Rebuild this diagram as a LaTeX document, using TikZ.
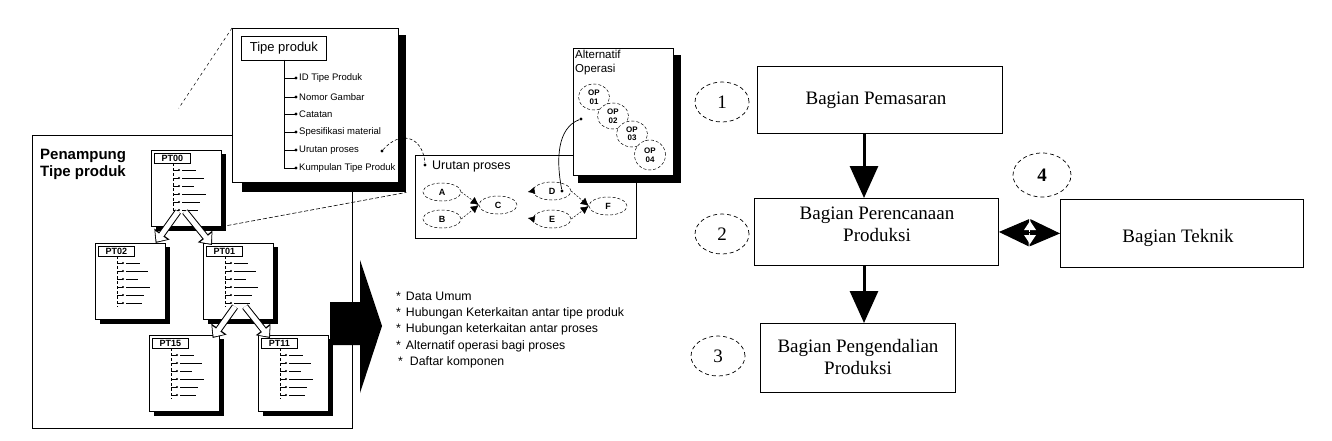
\documentclass[tikz,border=0pt]{standalone}
\usepackage{fontspec}
\setmainfont{Liberation Serif}
\setsansfont{Liberation Sans}
\usetikzlibrary{arrows.meta,shapes.geometric,calc}
\begin{document}
\begin{tikzpicture}[x=1pt,y=-1pt,
  frame/.style={draw, fill=white, inner sep=0pt, anchor=north west},
  shadowbox/.style={fill=black, inner sep=0pt, anchor=north west},
  serifbox/.style={draw, line width=0.9pt, inner sep=0pt, anchor=north west},
  seriftext/.style={font=\fontsize{19}{22}\selectfont, align=center, inner sep=0pt},
  numcirc/.style={draw, dash pattern=on 4pt off 3pt, line width=0.7pt, ellipse, inner sep=0pt, minimum width=54pt, minimum height=40pt, font=\fontsize{19}{20}\selectfont},
  procell/.style={draw, dash pattern=on 3pt off 2pt, line width=0.5pt, ellipse, fill=white, inner sep=0pt, minimum width=38pt, minimum height=18pt, font=\sffamily\bfseries\fontsize{9}{9}\selectfont},
  opell/.style={draw, dash pattern=on 3pt off 2pt, line width=0.5pt, ellipse, fill=white, inner sep=0pt, minimum width=31pt, minimum height=26pt, align=center, font=\sffamily\bfseries\fontsize{8}{8.5}\selectfont},
  dotnode/.style={circle, fill=black, inner sep=0pt, minimum size=3.2pt},
  smalltxt/.style={font=\sffamily\fontsize{9.5}{10}\selectfont, inner sep=0pt, anchor=west},
  bullettxt/.style={font=\sffamily\fontsize{12.3}{13}\selectfont, inner sep=0pt, anchor=west},
  hollowout/.style={line width=7pt, -{Triangle[length=11pt,width=18pt]}},
  hollowin/.style={line width=5pt, white, -{Triangle[length=8pt,width=14pt]}, shorten >=1.6pt},
  bigarrow/.style={line width=3pt, -{Triangle[length=32pt,width=28pt]}},
  procarrow/.style={dash pattern=on 2pt off 1.5pt, line width=0.5pt, -{Latex[length=8pt,width=8pt]}},
  minibox/.pic={
    \fill (5,4) rectangle (75,81);
    \node[frame, line width=0.6pt, minimum width=70pt, minimum height=76pt] (-box) at (0,0) {};
    \node[draw, line width=0.6pt, anchor=north west, inner sep=0pt, minimum width=36pt, minimum height=10pt, font=\sffamily\bfseries\fontsize{9}{9}\selectfont] (-lab) at (3,3) {#1};
    \draw[densely dashed, line width=0.5pt] (22,13) -- (22,64);
    \foreach \yy/\ll in {20/14,28/22,36/12,44/24,52/18,60/16} {
      \draw[line width=0.5pt] (22,\yy) -- (28,\yy);
      \fill (28,\yy) circle (1.2pt);
      \draw[line width=0.6pt] (31,\yy) -- ++(\ll,0);
    }
  }
]
\useasboundingbox (0,0) rectangle (1332,441);

% ---------- Penampung Tipe produk ----------
\node[frame, line width=1pt, minimum width=320pt, minimum height=293pt] (pen) at (32,135) {};
\node[anchor=north west, align=left, inner sep=0pt, font=\sffamily\bfseries\fontsize{15}{17}\selectfont] (pentxt) at (40,149) {Penampung\\Tipe produk};

\pic (pt00) at (151,150) {minibox=PT00};
\pic (pt02) at (95,243) {minibox=PT02};
\pic (pt01) at (203,243) {minibox=PT01};
\pic (pt15) at (149,335) {minibox=PT15};
\pic (pt11) at (258,335) {minibox=PT11};

% hollow arrows
\draw[hollowout] ($(pt00-box.south west)+(27,-15)$) -- ($(pt02-box.north east)+(-10,0)$);
\draw[hollowin]  ($(pt00-box.south west)+(27,-15)$) -- ($(pt02-box.north east)+(-10,0)$);
\draw[hollowout] ($(pt00-box.south west)+(34,-15)$) -- ($(pt01-box.north west)+(9,2)$);
\draw[hollowin]  ($(pt00-box.south west)+(34,-15)$) -- ($(pt01-box.north west)+(9,2)$);
\draw[hollowout] ($(pt01-box.south west)+(32,-13)$) -- ($(pt15-box.north east)+(-7,3)$);
\draw[hollowin]  ($(pt01-box.south west)+(32,-13)$) -- ($(pt15-box.north east)+(-7,3)$);
\draw[hollowout] ($(pt01-box.south west)+(42,-13)$) -- ($(pt11-box.north west)+(12,3)$);
\draw[hollowin]  ($(pt01-box.south west)+(42,-13)$) -- ($(pt11-box.north west)+(12,3)$);

% ---------- Tipe produk popup ----------
\node[shadowbox, minimum width=164pt, minimum height=157pt] (popsh) at (242,35) {};
\node[frame, line width=0.8pt, minimum width=166pt, minimum height=154pt] (pop) at (232,28) {};
\draw[dash pattern=on 3pt off 3pt, line width=0.5pt, shorten >=50pt] (pop.north west) -- (pt00-box.north west);
\draw[dash pattern=on 4pt off 2pt, line width=0.6pt] (pt00-box.south east) -- (popsh.south east);
\node[draw, line width=0.8pt, anchor=north west, inner sep=0pt, minimum width=85pt, minimum height=24pt, font=\sffamily\fontsize{13}{13}\selectfont] (poplab) at (241,36) {Tipe produk};
\draw[line width=0.7pt] (284,60) -- (284,168);
\begin{scope}
\clip (232,28) rectangle (397,182);
\foreach \yy/\txt [count=\i] in {78/ID Tipe Produk,97/Nomor Gambar,114/Catatan,132/Spesifikasi material,150/Urutan proses,168/Kumpulan Tipe Produk} {
  \draw[line width=0.7pt] (284,\yy) -- (296,\yy);
  \fill (296,\yy) circle (1.6pt);
  \node[smalltxt] (item\i) at (299,\yy) {\txt};
}
\end{scope}
\node[dotnode] (udot1) at (382,151) {};

% ---------- big black arrow ----------
\fill (330,302) -- (360,302) -- (360,260) -- (382,326) -- (360,393) -- (360,345) -- (330,345) -- cycle;

% ---------- bullet list ----------
\node[bullettxt] (l1) at (396,296) {*\hspace{5pt}Data Umum};
\node[bullettxt] (l2) at (396,313) {*\hspace{5pt}Hubungan Keterkaitan antar tipe produk};
\node[bullettxt] (l3) at (396,329) {*\hspace{5pt}Hubungan keterkaitan antar proses};
\node[bullettxt] (l4) at (396,346) {*\hspace{5pt}Alternatif operasi bagi proses};
\node[bullettxt] (l5) at (398,362) {*\hspace{7pt}Daftar komponen};

% ---------- Urutan proses ----------
\node[frame, line width=0.9pt, minimum width=221pt, minimum height=83pt] (ubox) at (415,155) {};
\node[dotnode] (udot2) at (425,165) {};
\node[anchor=west, inner sep=0pt, font=\sffamily\fontsize{12.5}{12.5}\selectfont] (ulab) at (432,166) {Urutan proses};
\draw[dash pattern=on 3pt off 2pt, line width=0.6pt] (udot1) .. controls (400,130) and (423,136) .. (udot2);
\node[procell] (pA) at (442,192) {A};
\node[procell] (pB) at (442,219) {B};
\node[procell] (pC) at (498,205) {C};
\node[procell] (pD) at (552,191) {D};
\node[procell] (pE) at (552,219) {E};
\node[procell] (pF) at (608,206) {F};
\draw[procarrow] (pA.east) -- (pC.west);
\draw[procarrow] (pB.east) -- (pC.west);
\draw[procarrow] (pD.east) -- (pF.west);
\draw[procarrow] (pE.east) -- (pF.west);
\draw[line width=0.5pt, {Latex[length=7pt,width=7pt]}-] ($(pD.west)+(-5,1)$) -- (pD.west);
\draw[line width=0.5pt, {Latex[length=7pt,width=7pt]}-] ($(pE.west)+(-5,-1)$) -- (pE.west);

% ---------- Alternatif Operasi ----------
\node[shadowbox, minimum width=103pt, minimum height=128pt] (altsh) at (578,55) {};
\node[frame, line width=0.8pt, minimum width=100pt, minimum height=127pt] (alt) at (573,48) {};
\node[anchor=north west, align=left, inner sep=0pt, font=\sffamily\fontsize{11.5}{13.5}\selectfont] (alttxt) at (575,50) {Alternatif\\Operasi};
\node[opell] (op1) at (594,97) {OP\\01};
\node[opell] (op2) at (613,116) {OP\\02};
\node[opell] (op3) at (632,134) {OP\\03};
\node[opell, minimum height=30pt] (op4) at (650,155) {OP\\04};
\node[dotnode] (altdot) at (581,119) {};
\node[dotnode] (ddot) at (562,191) {};
\draw[line width=0.7pt] (ddot) .. controls (556,160) and (557,128) .. (altdot);

% ---------- right-hand chart ----------
\node[serifbox, minimum width=245pt, minimum height=67pt] (b1) at (757,66) {};
\node[serifbox, minimum width=244pt, minimum height=67pt] (b2) at (754,198) {};
\node[serifbox, minimum width=195pt, minimum height=69pt] (b3) at (760,323) {};
\node[serifbox, minimum width=243pt, minimum height=68pt] (b4) at (1060,199) {};
\node[seriftext] (t1) at (876,100) {Bagian Pemasaran};
\node[seriftext] (t2) at (877,224) {Bagian Perencanaan\\Produksi};
\node[seriftext] (t3) at (858,357) {Bagian Pengendalian\\Produksi};
\node[seriftext] (t4) at (1178,238) {Bagian Teknik};

\coordinate (ax) at (864,0);
\draw[bigarrow] (b1.south -| ax) -- (b2.north -| ax);
\draw[bigarrow] (b2.south -| ax) -- (b3.north -| ax);
\draw[line width=1pt, {Triangle[length=30pt,width=27pt]}-{Triangle[length=30pt,width=27pt]}] (b2.east) -- (b4.west);
\fill[white] (1024,230) -- (1036,230) -- (1030,221) -- cycle;
\fill[white] (1024,235) -- (1036,235) -- (1030,244) -- cycle;

\node[numcirc] (n1) at (722,102) {1};
\node[numcirc] (n2) at (722,234) {2};
\node[numcirc] (n3) at (718,356) {3};
\node[numcirc, minimum width=58pt, minimum height=44pt, font=\bfseries\fontsize{19}{20}\selectfont] (n4) at (1042,175) {4};
\end{tikzpicture}
\end{document}
